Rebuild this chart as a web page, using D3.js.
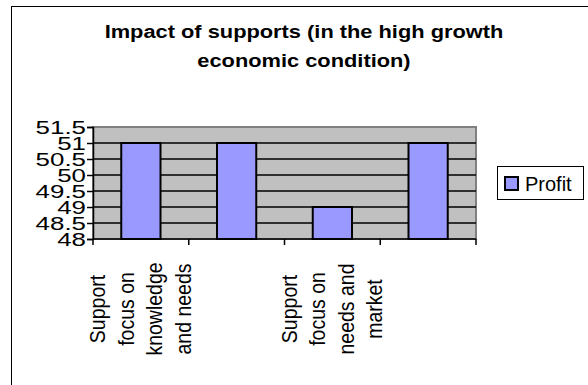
<!DOCTYPE html>
<html>
<head>
<meta charset="utf-8">
<script src="https://cdn.jsdelivr.net/npm/d3@7"></script>
<style>
  body { margin: 0; background: #fff; }
  text { font-family: Arial, "Liberation Sans", sans-serif; fill: #000; }
</style>
</head>
<body>
<div id="chart-area"></div>
<script>
// chart data
var categories = ["Support focus on knowledge and needs", "", "Support focus on needs and market", ""];
var labelLines = [["Support", "focus on", "knowledge", "and needs"], [], ["Support", "focus on", "needs and", "market"], []];
var profit = [51, 51, 49, 51];
var yTicks = [48, 48.5, 49, 49.5, 50, 50.5, 51, 51.5];
var seriesName = "Profit";
var titleLines = ["Impact of supports (in the high growth", "economic condition)"];

var width = 588;
var height = 385;
var plot = {left: 93, right: 476, top: 127, bottom: 239};

var svg = d3.select("#chart-area")
    .append("svg")
    .attr("width", width)
    .attr("height", height);

// outer chart frame (runs off the right/bottom edge)
svg.append("rect")
    .attr("x", 11.5)
    .attr("y", 6.5)
    .attr("width", 600)
    .attr("height", 400)
    .attr("fill", "#fff")
    .attr("stroke", "#000");

// title
svg.selectAll(".title")
    .data(titleLines)
    .enter()
    .append("text")
        .attr("class", "title")
        .attr("x", 304)
        .attr("y", (d, i) => 38 + i * 29)
        .attr("text-anchor", "middle")
        .attr("font-size", "18.5px")
        .attr("font-weight", "bold")
        .attr("transform", "translate(304,0) scale(1.18,1) translate(-304,0)")
        .text((d) => d);

var x = d3.scaleBand()
    .domain(d3.range(categories.length))
    .range([plot.left, plot.right]);

var y = d3.scaleLinear()
    .domain([48, 51.5])
    .range([plot.bottom, plot.top]);

// plot background
svg.append("rect")
    .attr("x", plot.left)
    .attr("y", plot.top)
    .attr("width", plot.right - plot.left)
    .attr("height", plot.bottom - plot.top)
    .attr("fill", "#c0c0c0")
    .attr("stroke", "#808080")
    .attr("stroke-width", 2);

// gridlines
svg.append("g")
    .selectAll("line")
    .data(yTicks.slice(1, -1))
    .enter()
    .append("line")
        .attr("x1", plot.left)
        .attr("x2", plot.right)
        .attr("y1", (d) => y(d))
        .attr("y2", (d) => y(d))
        .attr("stroke", "#000")
        .attr("stroke-width", 1.3);

// bars
var barW = x.bandwidth() * 0.41;
svg.append("g")
    .selectAll("rect")
    .data(profit)
    .enter()
    .append("rect")
        .attr("x", (d, i) => x(i) + (x.bandwidth() - barW) / 2)
        .attr("y", (d) => y(d))
        .attr("width", barW)
        .attr("height", (d) => plot.bottom - y(d))
        .attr("fill", "#9999ff")
        .attr("stroke", "#000")
        .attr("stroke-width", 2);

// left axis
var yAxisCall = d3.axisLeft(y)
    .tickValues(yTicks)
    .tickSize(6)
    .tickFormat((d) => d);
var yAxis = svg.append("g")
    .attr("transform", "translate(" + plot.left + ",0)")
    .call(yAxisCall);
yAxis.select(".domain").attr("stroke", "#000").attr("stroke-width", 1.5);
yAxis.selectAll(".tick line").attr("stroke", "#000").attr("stroke-width", 1.5);
yAxis.selectAll("text")
    .attr("font-size", "18.5px")
    .attr("font-family", "Arial, 'Liberation Sans', sans-serif")
    .attr("x", 0)
    .attr("dy", "0.36em")
    .attr("text-anchor", "end")
    .attr("transform", "translate(-7,0) scale(1.4,1)");

// bottom axis: ticks at category boundaries
var bottom = svg.append("g");
bottom.append("line")
    .attr("x1", plot.left)
    .attr("x2", plot.right)
    .attr("y1", plot.bottom)
    .attr("y2", plot.bottom)
    .attr("stroke", "#000")
    .attr("stroke-width", 1.5);
bottom.selectAll(".btick")
    .data(d3.range(categories.length + 1))
    .enter()
    .append("line")
        .attr("class", "btick")
        .attr("x1", (d) => d < categories.length ? x(d) : plot.right)
        .attr("x2", (d) => d < categories.length ? x(d) : plot.right)
        .attr("y1", plot.bottom)
        .attr("y2", plot.bottom + 6)
        .attr("stroke", "#000")
        .attr("stroke-width", 1.5);

// rotated category labels
var lineGap = 28.5;
labelLines.forEach((lines, i) => {
    var cx = x(i) + x.bandwidth() / 2;
    var n = lines.length;
    lines.forEach((ln, j) => {
        var bx = cx + (j - (n - 1) / 2) * lineGap + 7;
        svg.append("text")
            .attr("class", "cat-label")
            .attr("transform", "translate(" + bx + ",309) rotate(-90) scale(1,1.15)")
            .attr("text-anchor", "middle")
            .attr("font-size", "19.5px")
            .text(ln);
    });
});

// legend
var legend = svg.append("g");
legend.append("rect")
    .attr("x", 497.5)
    .attr("y", 166.5)
    .attr("width", 86)
    .attr("height", 33)
    .attr("fill", "#fff")
    .attr("stroke", "#000");
legend.append("rect")
    .attr("x", 505)
    .attr("y", 177)
    .attr("width", 13)
    .attr("height", 13)
    .attr("fill", "#9999ff")
    .attr("stroke", "#000")
    .attr("stroke-width", 2);
legend.append("text")
    .attr("x", 525)
    .attr("y", 191)
    .attr("font-size", "20px")
    .text(seriesName);
</script>
</body>
</html>
